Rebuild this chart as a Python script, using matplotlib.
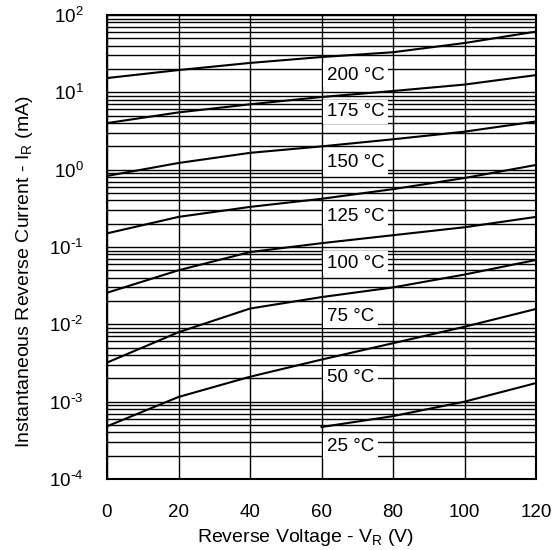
import numpy as np
import matplotlib
matplotlib.use("Agg")
import matplotlib.pyplot as plt
from matplotlib.ticker import LogLocator, FuncFormatter, NullFormatter

plt.rcParams['font.family'] = ['Liberation Sans', 'DejaVu Sans']
plt.rcParams['mathtext.default'] = 'regular'
plt.rcParams['axes.unicode_minus'] = False

# Daten
voltage = [0, 20, 40, 60, 80, 100, 120]
voltage_25 = [60, 80, 100, 120]

i_200 = [15.3, 19.4, 24.0, 28.6, 33.0, 43.4, 61.0]
i_175 = [4.0, 5.5, 7.0, 8.7, 10.4, 12.6, 16.7]
i_150 = [0.83, 1.22, 1.65, 2.0, 2.47, 3.1, 4.2]
i_125 = [0.15, 0.245, 0.33, 0.42, 0.56, 0.78, 1.15]
i_100 = [0.0256, 0.05, 0.086, 0.112, 0.142, 0.18, 0.245]
i_75 = [0.0032, 0.0079, 0.016, 0.0225, 0.030, 0.044, 0.068]
i_50 = [4.8e-4, 1.15e-3, 2.1e-3, 3.5e-3, 5.7e-3, 9.3e-3, 1.58e-2]
i_25 = [4.7e-4, 6.5e-4, 1.0e-3, 1.74e-3]

labels = ["200 °C", "175 °C", "150 °C", "125 °C", "100 °C", "75 °C", "50 °C", "25 °C"]
label_y = [16.7, 5.57, 1.22, 0.25, 0.062, 0.0128, 2.03e-3, 2.6e-4]
label_x = 61.5


def dekade(val, pos):
    e = int(round(np.log10(val)))
    if e < 0:
        return r'$10^{\text{-}%d}$' % (-e)
    return r'$10^{%d}$' % e


fig = plt.figure(figsize=(5.58, 5.50), dpi=100)
ax = fig.add_axes([107/558, 1 - 479/550, (536 - 107)/558, (479 - 15)/550])

for v, cur in [(voltage, i_200), (voltage, i_175), (voltage, i_150), (voltage, i_125),
               (voltage, i_100), (voltage, i_75), (voltage, i_50), (voltage_25, i_25)]:
    ax.plot(v, cur, color='black', lw=1.5, zorder=4)

for txt, y in zip(labels, label_y):
    ax.text(label_x, y, txt, fontsize=13.5, ha='left', va='center', zorder=3,
            bbox=dict(facecolor='white', edgecolor='none', pad=2.5))

ax.set_yscale('log')
ax.set_xlim(0, 120)
ax.set_ylim(1e-4, 1e2)
ax.set_xticks([0, 20, 40, 60, 80, 100, 120])
ax.yaxis.set_major_locator(LogLocator(base=10, numticks=10))
ax.yaxis.set_major_formatter(FuncFormatter(dekade))
ax.yaxis.set_minor_locator(LogLocator(base=10, subs=np.arange(2, 10), numticks=100))
ax.yaxis.set_minor_formatter(NullFormatter())

ax.grid(which='major', axis='both', color='black', lw=1.0)
ax.grid(which='minor', axis='y', color='black', lw=1.0)
ax.set_axisbelow(True)

ax.tick_params(which='both', length=0, labelsize=13.5)
ax.tick_params(axis='x', pad=18)
ax.tick_params(axis='y', pad=17)
for s in ax.spines.values():
    s.set_linewidth(1.5)

fig.text(306/558, 1 - 537/550, "Reverse Voltage - V$_R$ (V)", fontsize=14,
         ha='center', va='center')
fig.text(25/558, 1 - 272/550, "Instantaneous Reverse Current - I$_R$ (mA)", fontsize=14,
         ha='center', va='center', rotation=90)

fig.savefig('out.png', dpi=100)
